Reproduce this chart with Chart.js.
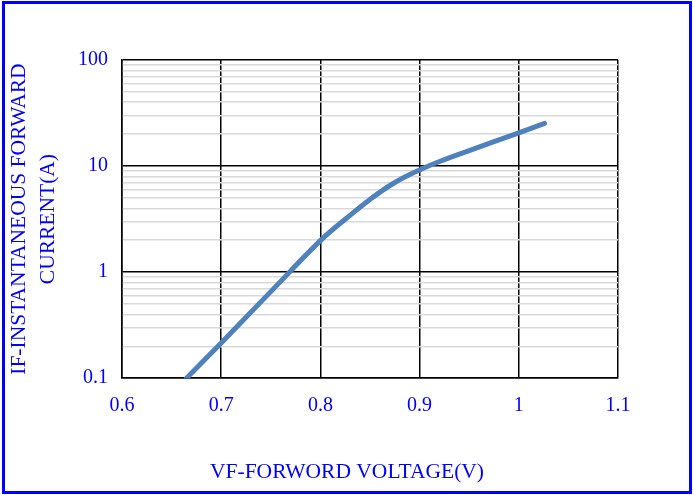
<!DOCTYPE html>
<html>
<head>
<meta charset="utf-8">
<script src="https://cdn.jsdelivr.net/npm/chart.js@4.4.1/dist/chart.umd.min.js"></script>
<style>
  html, body { margin: 0; padding: 0; background: #ffffff; }
  #wrap { position: absolute; left: 0; top: 0; width: 694px; height: 495px; }
  #frame { position: absolute; left: 2px; top: 1px; width: 690px; height: 493px;
           border: 3px solid #0000ff; box-sizing: border-box; pointer-events: none; }
</style>
</head>
<body>
<div id="wrap"><canvas id="c"></canvas></div>
<div id="frame"></div>
<script>
// ---- data ----
const voltage = [0.665, 0.7, 0.75, 0.8, 0.825, 0.85, 0.875, 0.9, 0.925, 0.95, 1.0, 1.026];
const current = [0.1, 0.215, 0.655, 1.98, 3.15, 4.85, 7.0, 9.2, 11.5, 14.0, 20.6, 25.3];
const xTicks = [0.6, 0.7, 0.8, 0.9, 1.0, 1.1];
const xTickLabels = ['0.6', '0.7', '0.8', '0.9', '1', '1.1'];
const yDecades = [0.1, 1, 10, 100];
const yDecadeLabels = ['0.1', '1', '10', '100'];
const xTitle = 'VF-FORWORD VOLTAGE(V)';
const yTitle = ['IF-INSTANTANEOUS FORWARD', 'CURRENT(A)'];

const BLUE = '#0000ff';
const FONT = 'Liberation Serif';

const points = voltage.map((v, i) => ({ x: v, y: current[i] }));

function isDecade(v) {
  return yDecades.some(d => Math.abs(d - v) < d * 1e-6);
}

new Chart(document.getElementById('c'), {
  type: 'line',
  data: {
    datasets: [{
      data: points,
      borderColor: '#4f81bd',
      borderWidth: 5,
      pointRadius: 0,
      tension: 0.4,
      borderCapStyle: 'round',
      fill: false
    }]
  },
  options: {
    responsive: true,
    maintainAspectRatio: false,
    animation: false,
    devicePixelRatio: 1,
    layout: { padding: { left: 0, right: 0, top: 60, bottom: 0 } },
    plugins: {
      legend: { display: false },
      tooltip: { enabled: false },
      title: {
        display: true,
        position: 'bottom',
        text: xTitle,
        color: BLUE,
        font: { family: FONT, size: 21.5, weight: 'normal', lineHeight: 1.2 },
        padding: { top: 0, bottom: 10 }
      }
    },
    scales: {
      x: {
        type: 'linear',
        min: xTicks[0],
        max: xTicks[xTicks.length - 1],
        afterBuildTicks: s => { s.ticks = xTicks.map(v => ({ value: v })); },
        afterFit: s => { s.height = 81; },
        grid: { color: '#000000', lineWidth: 1.5, drawTicks: false },
        border: { display: true, color: '#000000', width: 1.5 },
        ticks: {
          color: BLUE,
          padding: 16,
          maxRotation: 0,
          autoSkip: false,
          font: { family: FONT, size: 20 },
          callback: (v, i) => xTickLabels[i]
        }
      },
      y: {
        type: 'logarithmic',
        min: yDecades[0],
        max: yDecades[yDecades.length - 1],
        afterBuildTicks: s => {
          const t = [];
          for (let d = 0; d < yDecades.length - 1; d++) {
            for (let m = 1; m <= 9; m++) t.push({ value: yDecades[d] * m });
          }
          t.push({ value: yDecades[yDecades.length - 1] });
          s.ticks = t;
        },
        afterFit: s => { s.width = 122; },
        grid: {
          drawTicks: false,
          lineWidth: 1.5,
          color: ctx => (ctx.tick && isDecade(ctx.tick.value)) ? '#000000' : '#d9d9d9'
        },
        border: { display: true, color: '#000000', width: 1.5 },
        title: {
          display: true,
          text: yTitle,
          color: BLUE,
          font: { family: FONT, size: 21.5, weight: 'normal', lineHeight: 1.33 },
          padding: { top: 5, bottom: 0 }
        },
        ticks: {
          color: BLUE,
          padding: 14,
          autoSkip: false,
          font: { family: FONT, size: 20 },
          callback: v => {
            const i = yDecades.findIndex(d => Math.abs(d - v) < d * 1e-6);
            return i >= 0 ? yDecadeLabels[i] : '';
          }
        }
      },
      yr: {
        type: 'linear',
        position: 'right',
        display: true,
        grid: { display: false, drawTicks: false },
        border: { display: false },
        ticks: { display: false },
        afterFit: s => { s.width = 76; }
      }
    }
  }
});
</script>
</body>
</html>
